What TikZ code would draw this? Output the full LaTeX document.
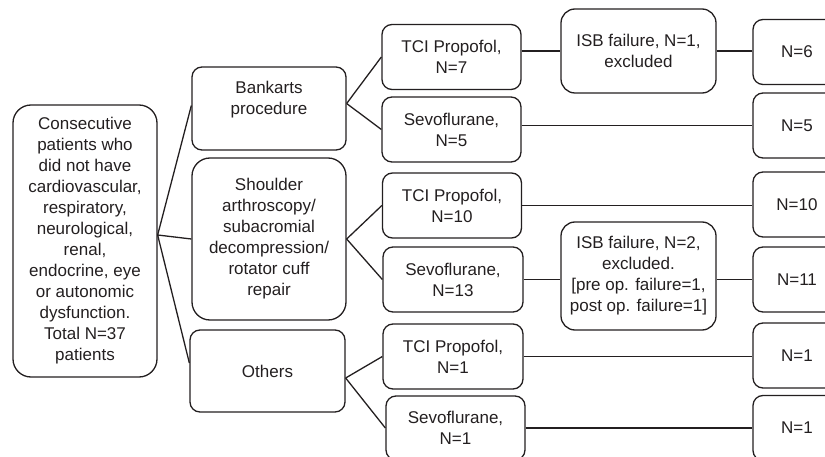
\documentclass[tikz,border=0pt]{standalone}
\usepackage{fontspec}
\setmainfont{Liberation Sans}
\definecolor{ink}{RGB}{35,31,32}
\begin{document}
\begin{tikzpicture}[x=1pt,y=-1pt,line width=1.3pt,draw=ink]
  \tikzstyle{every node}=[draw=ink,text=ink,rounded corners=10pt,align=center,inner sep=0pt,font=\fontsize{17}{21}\selectfont]
  \tikzstyle{arm}=[minimum width=139pt,minimum height=65pt]
  \tikzstyle{result}=[minimum width=88pt,minimum height=65pt]
  \tikzstyle{isb}=[minimum width=155pt,rounded corners=14pt]
  \clip (0,0) rectangle (825,457);
  \node[minimum width=144pt,minimum height=272pt,rounded corners=18pt] (root) at (85,241)
    {Consecutive\\patients who\\did not have\\cardiovascular,\\respiratory,\\neurological,\\renal,\\endocrine, eye\\or autonomic\\dysfunction.\\Total N=37\\patients};
  \node[minimum width=154pt,minimum height=83pt] (bank) at (269,108.5) {Bankarts\\procedure\\\mbox{}};
  \node[minimum width=154pt,minimum height=162pt,rounded corners=18pt] (shoulder) at (269,239)
    {Shoulder\\arthroscopy/\\subacromial\\decompression/\\rotator cuff\\repair};
  \node[minimum width=155pt,minimum height=82pt] (others) at (267.5,371) {Others};
  \node[arm] (tciA) at (451.5,57) {TCI Propofol,\\N=7};
  \node[arm] (sevoA) at (451.5,129.5) {Sevoflurane,\\N=5};
  \node[arm] (tciB) at (452,205.5) {TCI Propofol,\\N=10};
  \node[arm,minimum width=140pt] (sevoB) at (453,279.5) {Sevoflurane,\\N=13};
  \node[arm,minimum width=140pt] (tciC) at (453,356.5) {TCI Propofol,\\N=1};
  \node[arm,minimum height=64pt] (sevoC) at (455.5,428) {Sevoflurane,\\N=1};
  \node[isb,minimum height=84pt] (failA) at (638.5,51) {ISB failure, N=1,\\excluded};
  \node[isb,minimum height=108pt] (failB) at (638.5,276)
    {ISB failure, N=2,\\excluded.\\{[pre op. failure=1,}\\post op. failure=1]};
  \node[result] (nA) at (797,52) {N=6};
  \node[result] (nB) at (797,125.5) {N=5};
  \node[result] (nC) at (797,204.5) {N=10};
  \node[result] (nD) at (797,279.5) {N=11};
  \node[result] (nE) at (797,355.5) {N=1};
  \node[result] (nF) at (797,428) {N=1};
  \coordinate (fork) at ([yshift=6pt]root.east);
  \draw (fork) -- ([yshift=3pt]bank.west);
  \draw (fork) -- (shoulder.west);
  \draw (fork) -- ([yshift=8pt]others.west);
  \draw ([yshift=5pt]bank.east) -- (tciA.west);
  \draw ([yshift=5pt]bank.east) -- (sevoA.west);
  \draw (shoulder.east) -- (tciB.west);
  \draw (shoulder.east) -- (sevoB.west);
  \draw ([yshift=-7pt]others.east) -- (tciC.west);
  \draw ([yshift=-7pt]others.east) -- (sevoC.west);
  \draw (failA.west -| tciA.east) -- (failA.west);
  \draw (failA.east) -- (failA.east -| nA.west);
  \draw (nB.west -| sevoA.east) -- (nB.west);
  \draw (tciB.east) -- (tciB.east -| nC.west);
  \draw (sevoB.east) -- (sevoB.east -| failB.west);
  \draw (failB.east |- sevoB.east) -- (nD.west |- sevoB.east);
  \draw (tciC.east) -- (tciC.east -| nE.west);
  \draw (sevoC.east) -- (sevoC.east -| nF.west);
\end{tikzpicture}
\end{document}
